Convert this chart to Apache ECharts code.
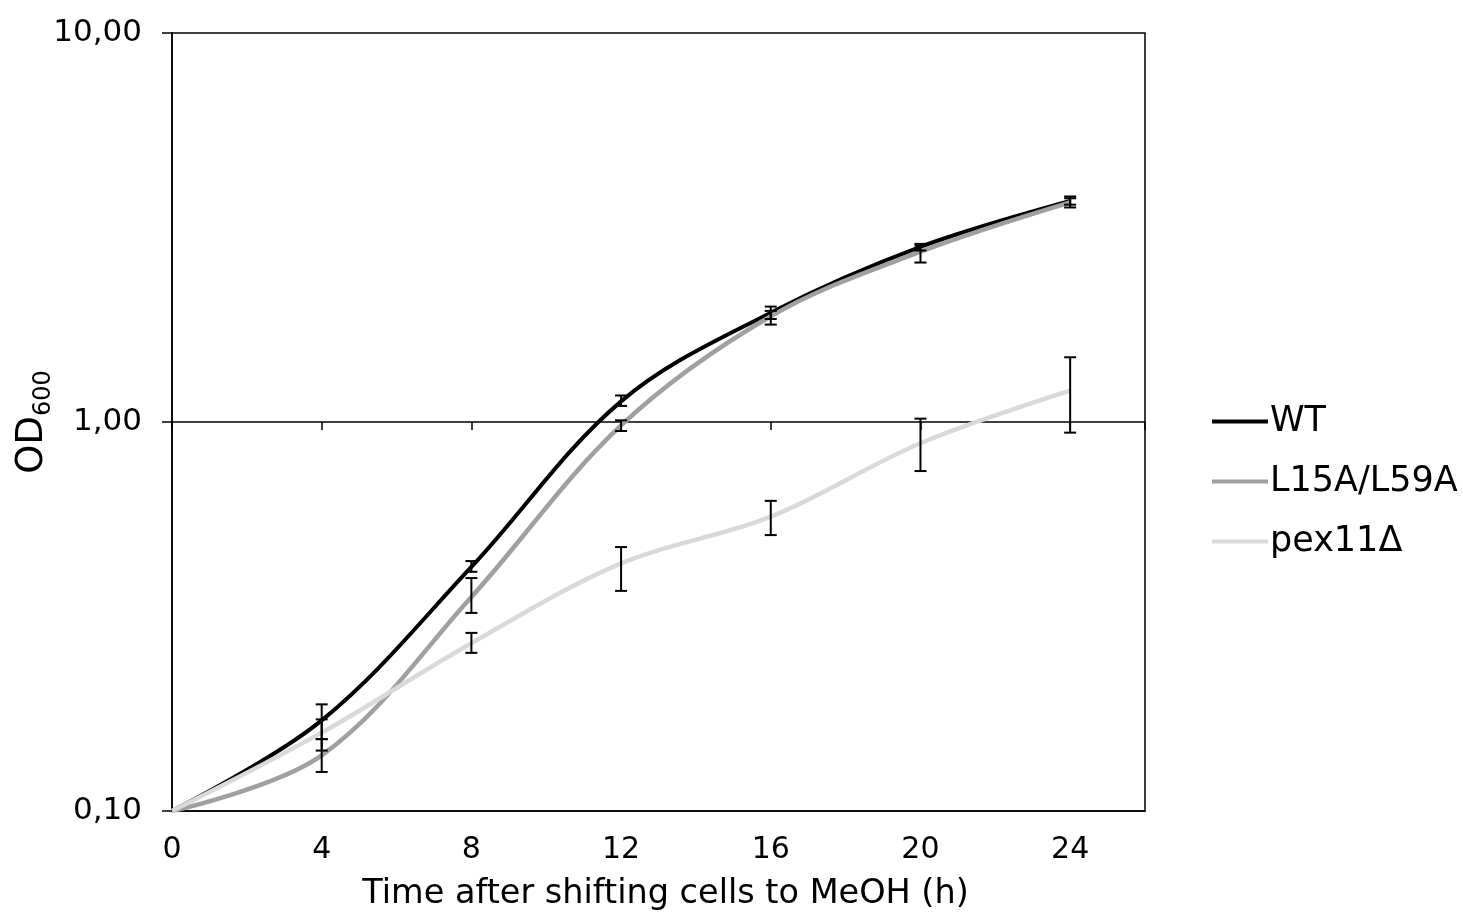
<!DOCTYPE html>
<html>
<head>
<meta charset="utf-8">
<title>OD600</title>
<script src="https://cdn.jsdelivr.net/npm/echarts@6/dist/echarts.min.js"></script>
<style>
  html, body { margin: 0; padding: 0; background: #fff; }
  #main { width: 1463px; height: 917px; }
</style>
</head>
<body>
<div id="main"></div>
<script>
// hours after shift
var hours = [0, 4, 8, 12, 16, 20, 24];
var xTicks = [0, 4, 8, 12, 16, 20, 24];
var yTicks = [0.1, 1, 10];

// WT
var wt = [0.10, 0.171, 0.424, 1.13, 1.91, 2.82, 3.70];
var wtLow = [null, 0.153, 0.412, 1.10, 1.84, 2.76, 3.62];
var wtHigh = [null, 0.188, 0.439, 1.17, 1.98, 2.87, 3.80];

// L15A/L59A
var mut = [0.10, 0.139, 0.355, 0.98, 1.87, 2.74, 3.67];
var mutLow = [null, 0.126, 0.323, 0.948, 1.78, 2.57, 3.56];
var mutHigh = [null, 0.153, 0.397, 1.01, 1.93, 2.84, 3.76];

// pex11Δ
var pex = [0.10, 0.159, 0.27, 0.433, 0.571, 0.882, 1.204];
var pexLow = [null, 0.143, 0.255, 0.368, 0.512, 0.748, 0.939];
var pexHigh = [null, 0.172, 0.287, 0.477, 0.627, 1.02, 1.467];

var names = ["WT", "L15A/L59A", "pex11\u0394"];
var font = "DejaVu Sans";

function pairs(vals) {
  var out = [];
  for (var i = 0; i < hours.length; i++) out.push([hours[i], vals[i]]);
  return out;
}

function errPairs(lo, hi) {
  var out = [];
  for (var i = 0; i < hours.length; i++) {
    if (lo[i] == null) continue;
    out.push([hours[i], lo[i], hi[i]]);
  }
  return out;
}

function renderErr(params, api) {
  var x = api.value(0);
  var a = api.coord([x, api.value(1)]);
  var b = api.coord([x, api.value(2)]);
  var w = 6;
  var st = { stroke: "#000", lineWidth: 2 };
  return {
    type: "group",
    children: [
      { type: "line", shape: { x1: a[0], y1: a[1], x2: b[0], y2: b[1] }, style: st },
      { type: "line", shape: { x1: a[0] - w, y1: a[1], x2: a[0] + w, y2: a[1] }, style: st },
      { type: "line", shape: { x1: b[0] - w, y1: b[1], x2: b[0] + w, y2: b[1] }, style: st }
    ]
  };
}

function errSeries(name, lo, hi) {
  return {
    name: name,
    type: "custom",
    renderItem: renderErr,
    encode: { x: 0, y: [1, 2] },
    data: errPairs(lo, hi),
    z: 5,
    silent: true
  };
}

function lineSeries(name, vals, color, width) {
  return {
    name: name,
    type: "line",
    data: pairs(vals),
    symbol: "none",
    smooth: 0.35,
    color: color,
    lineStyle: { color: color, width: width },
    z: 3
  };
}

var myChart = echarts.init(document.getElementById("main"));

var option = {
  animation: false,
  backgroundColor: "#fff",
  grid: {
    left: 172,
    right: 318,
    top: 33,
    bottom: 106,
    containLabel: false,
    outerBoundsMode: "none",
    show: true,
    borderColor: "#000",
    borderWidth: 1.5,
    backgroundColor: "transparent"
  },
  legend: {
    data: names,
    orient: "vertical",
    left: 1207,
    top: 399,
    icon: "rect",
    itemWidth: 56,
    itemHeight: 4,
    itemGap: 25,
    textStyle: { fontFamily: font, fontSize: 35, color: "#000", padding: [0, 0, 0, -3] }
  },
  xAxis: [
    {
      type: "value",
      min: 0,
      max: 26,
      interval: 4,
      position: "bottom",
      name: "Time after shifting cells to MeOH (h)",
      nameLocation: "middle",
      nameGap: 66,
      nameMoveOverlap: false,
      nameTextStyle: { fontFamily: font, fontSize: 33.5, color: "#000", padding: [0, 0, 0, 14] },
      axisLine: { show: true, lineStyle: { color: "#000", width: 1.5 } },
      axisTick: { show: false },
      splitLine: { show: false },
      axisLabel: {
        margin: 24,
        fontFamily: font,
        fontSize: 30,
        color: "#000",
        formatter: function(v) {
          return xTicks.indexOf(v) >= 0 ? String(v) : "";
        }
      }
    },
    {
      // axis line crossing at OD 1,00 with its tick marks
      type: "value",
      min: 0,
      max: 26,
      interval: 4,
      position: "bottom",
      offset: -389,
      axisLine: { show: true, lineStyle: { color: "#000", width: 1.5 } },
      axisTick: { show: true, length: 8, lineStyle: { color: "#000", width: 1.5 } },
      axisLabel: { show: false },
      splitLine: { show: false }
    }
  ],
  yAxis: {
    type: "log",
    logBase: 10,
    min: 0.1,
    max: 10,
    name: "{a|OD}{b|600}",
    nameLocation: "middle",
    nameGap: 116,
    nameMoveOverlap: false,
    nameTextStyle: {
      fontFamily: font,
      color: "#000",
      rich: {
        a: { fontFamily: font, fontSize: 37, color: "#000" },
        b: { fontFamily: font, fontSize: 24, color: "#000", verticalAlign: "bottom", padding: [24, 0, 0, 0] }
      }
    },
    axisLine: { show: true, lineStyle: { color: "#000", width: 1.5 } },
    axisTick: { show: true, length: 10, lineStyle: { color: "#000", width: 1.5 } },
    minorTick: { show: false },
    splitLine: { show: false },
    axisLabel: {
      margin: 30,
      fontFamily: font,
      fontSize: 31,
      color: "#000",
      formatter: function(v) {
        for (var i = 0; i < yTicks.length; i++) {
          if (Math.abs(v - yTicks[i]) < 1e-9) return yTicks[i].toFixed(2).replace(".", ",");
        }
        return "";
      }
    }
  },
  series: [
    lineSeries(names[0], wt, "#000000", 4),
    lineSeries(names[1], mut, "#a0a0a0", 4.5),
    lineSeries(names[2], pex, "#d9d9d9", 4.5),
    errSeries("err WT", wtLow, wtHigh),
    errSeries("err L15A/L59A", mutLow, mutHigh),
    errSeries("err pex11", pexLow, pexHigh)
  ]
};
myChart.setOption(option);
</script>
</body>
</html>
